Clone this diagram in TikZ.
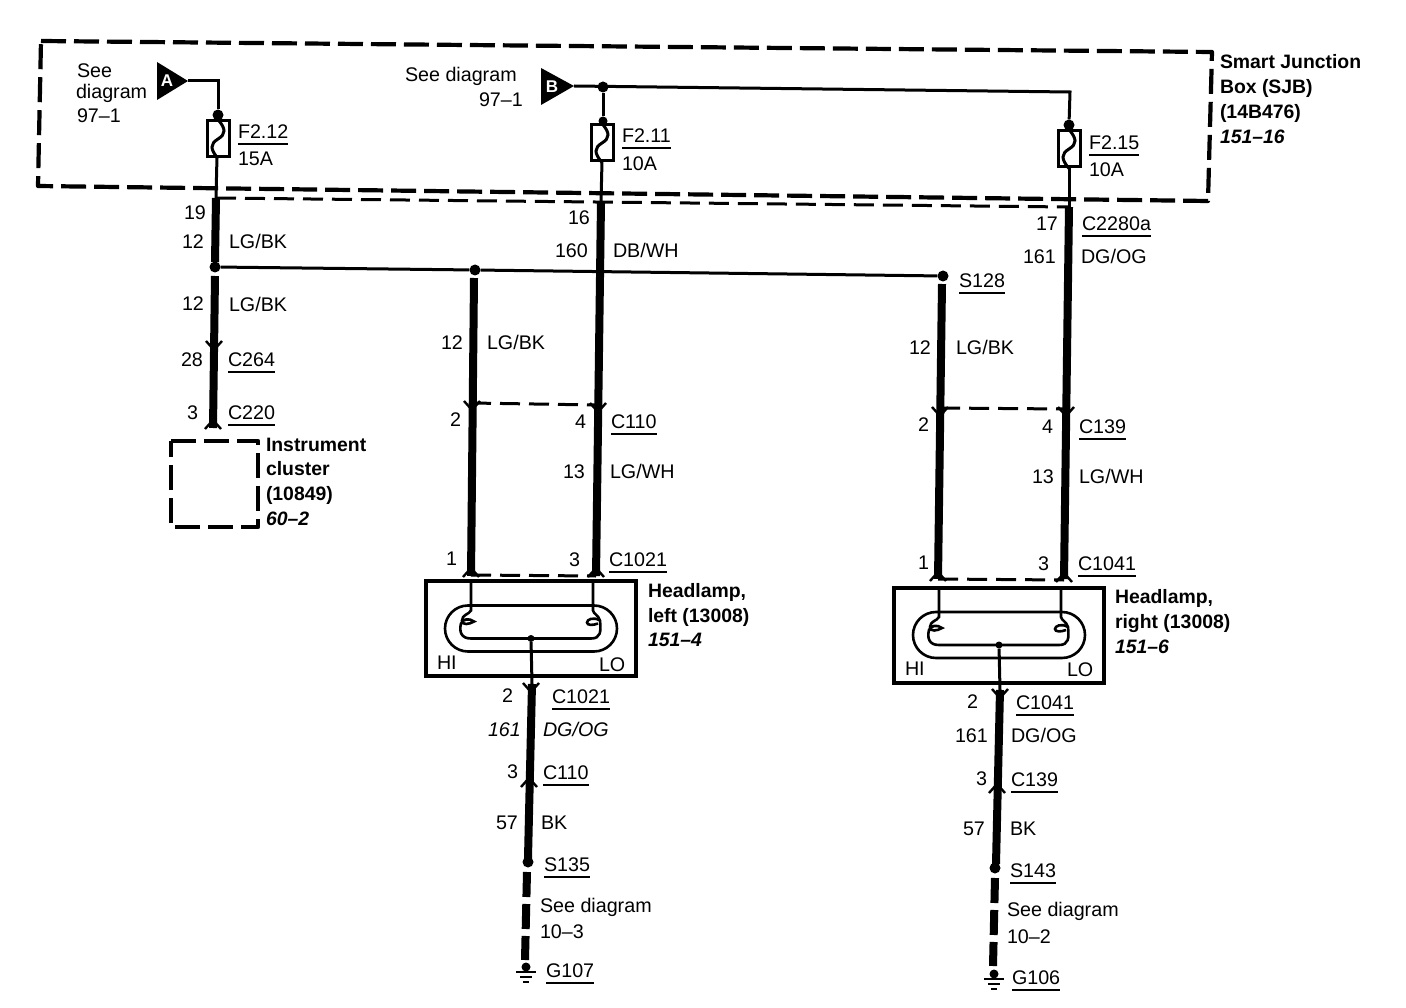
\documentclass[tikz,border=0pt]{standalone}
\usepackage{fontspec}
\setmainfont{Liberation Sans}
\usetikzlibrary{calc}
\tikzset{
  lbl/.style={anchor=west,inner sep=0pt,outer sep=0pt,text height=14.3pt,text depth=0pt,font=\fontsize{19.7}{24}\selectfont},
  bld/.style={lbl,font=\fontsize{19.4}{24}\selectfont\bfseries},
  bit/.style={lbl,font=\fontsize{19.4}{24}\selectfont\bfseries\itshape},
  ita/.style={lbl,font=\fontsize{19.7}{24}\selectfont\itshape},
  ul/.style={append after command={
     ([yshift=-5.5pt]\tikzlastnode.south west) edge[line width=1.8pt] ([yshift=-5.5pt]\tikzlastnode.south east)}},
  thickwire/.style={line width=8pt},
  thinwire/.style={line width=3pt},
  dashwire/.style={line width=3pt,dash pattern=on 20pt off 9pt},
  stub/.style={line width=8pt,dash pattern=on 25pt off 7pt},
  boxdash/.style={line width=4.2pt,dash pattern=on 25pt off 8pt,line join=round},
  dot/.style={circle,fill=black,inner sep=0pt,minimum size=11pt},
  fuse/.style={draw,line width=3pt,fill=white,minimum width=22pt,minimum height=36pt,inner sep=0pt},
  chevron/.style={line width=2.4pt},
  lampbox/.style={draw,line width=4pt,inner sep=0pt,minimum width=210pt,minimum height=95pt},
  letter/.style={inner sep=0pt,text=white,font=\fontsize{17}{20}\selectfont\bfseries}
}
\newcommand{\chevdn}[2]{\draw[chevron] ({#1-8},{#2-9}) -- (#1,#2) -- ({#1+8},{#2-9});}
\newcommand{\chevup}[2]{\draw[chevron] ({#1-8},{#2+9}) -- (#1,#2) -- ({#1+8},{#2+9});}
\newcommand{\fusewave}[1]{\draw[thinwire] (#1.north) .. controls ($(#1.center)+(8,-10)$) and ($(#1.center)+(8,-5)$) .. (#1.center) .. controls ($(#1.center)+(-8,5)$) and ($(#1.center)+(-8,10)$) .. (#1.south);}
\newcommand{\lamp}[3]{%
  \node[lampbox] (#1) at (#2,#3) {};
  \begin{scope}[shift={(#2,#3)}]
    \draw[line width=2.6pt] (-63,-23) -- (63,-23) arc[start angle=-90,end angle=90,radius=23] -- (-63,23) arc[start angle=90,end angle=270,radius=23] -- cycle;
    \coordinate (#1g) at (0,10);
    \draw[line width=2.6pt] (-60,-47) -- (-60,-18) .. controls (-62,-14) and (-69,-14) .. (-69,-8) .. controls (-69,-3) and (-62,-4) .. (-57,-7) .. controls (-62,-11) and (-69,-9) .. (-70,-5) .. controls (-72,3) and (-70,10) .. (-60,10) -- (60,10) .. controls (70,10) and (70,3) .. (69,-8) .. controls (67,-14) and (63,-14) .. (62,-18) -- (62,-47);
    \draw[line width=2.6pt] (69,-8) .. controls (62,-12) and (56,-9) .. (56,-6) .. controls (56,-3) and (62,-3) .. (67,-5);
  \end{scope}}
\newcommand{\gnd}[3]{%
  \node[circle,fill=black,inner sep=0pt,minimum size=9pt] (#1) at (#2,#3) {};
  \draw[line width=2.4pt] ({#2-10},{#3+5}) -- ({#2+10},{#3+5}) ({#2-6},{#3+10}) -- ({#2+6},{#3+10}) ({#2-3},{#3+15}) -- ({#2+3},{#3+15});}
\begin{document}
\begin{tikzpicture}[x=1pt,y=-1pt]
\useasboundingbox (0,0) rectangle (1406,1008);
\fill[white] (0,0) rectangle (1406,1008);

% Smart Junction Box and instrument cluster outlines
\draw[boxdash] (41,41) -- (1212,52) -- (1208,201) -- (38,186) -- cycle;
\draw[boxdash] (171,441) -- (258,441) -- (258,527) -- (171,527) -- cycle;

% named points
\coordinate (ja) at (216,198);
\coordinate (jb) at (601,202);
\coordinate (jc) at (1069,207);
\coordinate (ta) at (188,81);
\coordinate (ka) at (218,81);
\coordinate (tb) at (574,86);
\coordinate (kb) at (1070,92);
\coordinate (a1) at (215,262);
\coordinate (a2) at (215,276);
\coordinate (a3) at (213,428);
\coordinate (b1) at (596,576);
\coordinate (c1) at (1064,579);
\coordinate (l0) at (474,278);
\coordinate (l1) at (471,576);
\coordinate (r0) at (942,284);
\coordinate (r1) at (938,579);
\coordinate (ld1) at (471,403);
\coordinate (ld2) at (597,405);
\coordinate (ld3) at (471,575);
\coordinate (ld4) at (596,576);
\coordinate (rd1) at (940,408);
\coordinate (rd2) at (1065,409);
\coordinate (rd3) at (938,579);
\coordinate (rd4) at (1064,580);

% dots
\node[dot] (dA) at (218,115) {};
\node[dot] (dB) at (603,87) {};
\node[dot,minimum size=9pt] (dB2) at (603,121) {};
\node[dot] (dC) at (1069,125) {};
\node[dot] (s1) at (215,267) {};
\node[dot] (s2) at (475,270) {};
\node[dot] (s3) at (943,276) {};

% sources
\fill (157,62) -- (ta) -- (157,100) -- cycle;
\node[letter] (srcA) at (167,81) {A};
\fill (541,68) -- (tb) -- (541,105) -- cycle;
\node[letter] (srcB) at (552,87) {B};
\draw[thinwire] (ta) -- (ka) -- (dA);
\draw[thinwire] (tb) -- (kb) -- (dC);
\draw[thinwire] (dB) -- (dB2);

% fuses
\draw[thinwire] (dA) -- (ja);
\draw[thinwire] (dB2) -- (jb);
\draw[thinwire] (dC) -- (jc);
\node[fuse] (f1) at (218,139) {};
\node[fuse] (f2) at (602,143) {};
\node[fuse] (f3) at (1069,149) {};
\fusewave{f1}\fusewave{f2}\fusewave{f3}

% splice line
\draw[thinwire] (s1) -- (s2) -- (s3);
\draw[dashwire] (ja) -- (jc);

% heavy wires
\draw[thickwire] (ja) -- (a1);
\draw[thickwire] (a2) -- (a3);
\draw[thickwire] (jb) -- (b1);
\draw[thickwire] (jc) -- (c1);
\draw[thickwire] (l0) -- (l1);
\draw[thickwire] (r0) -- (r1);

% connector dashes
\draw[dashwire] (ld1) -- (ld2);
\draw[dashwire] (ld3) -- (ld4);
\draw[dashwire] (rd1) -- (rd2);
\draw[dashwire] (rd3) -- (rd4);

% chevrons
\chevdn{214}{350}
\chevup{213}{420}
\chevdn{472}{410}
\chevdn{598}{412}
\chevup{471}{568}
\chevup{596}{568}
\chevdn{940}{416}
\chevdn{1066}{416}
\chevup{938}{572}
\chevup{1064}{573}

% lamps
\lamp{hl}{531}{628.5}
\lamp{hr}{999}{635}
\node[dot,minimum size=7pt] (gl) at (hlg) {};
\node[dot,minimum size=7pt] (gr) at (hrg) {};
\coordinate (gl1) at (532,684);
\coordinate (gl2) at (528,858);
\coordinate (gl3) at (527,872);
\coordinate (gl4) at (525,960);
\coordinate (gr1) at (1000,690);
\coordinate (gr2) at (996,864);
\coordinate (gr3) at (995,878);
\coordinate (gr4) at (993,966);
\draw[thinwire] (gl) -- (gl1);
\draw[thinwire] (gr) -- (gr1);
\draw[thickwire] (gl1) -- (gl2);
\draw[thickwire] (gr1) -- (gr2);
\node[dot] (sp1) at (528,862) {};
\node[dot] (sp2) at (995,868) {};
\draw[stub] (gl3) -- (gl4);
\draw[stub] (gr3) -- (gr4);
\gnd{g1}{526}{967}
\gnd{g2}{994}{974}
\chevdn{531}{692}
\chevup{529}{778}
\chevdn{1000}{698}
\chevup{997}{784}

% labels: top
\node[lbl] (t1) at (77,70) {See};
\node[lbl] (t2) at (76,91) {diagram};
\node[lbl] (t3) at (77,115) {97–1};
\node[lbl] (t4) at (405,74) {See diagram};
\node[lbl] (t5) at (479,99) {97–1};
\node[lbl,ul] (t6) at (238,131) {F2.12};
\node[lbl] (t7) at (238,158) {15A};
\node[lbl,ul] (t8) at (622,135) {F2.11};
\node[lbl] (t9) at (622,163) {10A};
\node[lbl,ul] (t10) at (1089,142) {F2.15};
\node[lbl] (t11) at (1089,169) {10A};
\node[bld] (t12) at (1220,61) {Smart Junction};
\node[bld] (t13) at (1220,86) {Box (SJB)};
\node[bld] (t14) at (1220,111) {(14B476)};
\node[bit] (t15) at (1220,136) {151–16};

% left column
\node[lbl] (u1) at (184,212) {19};
\node[lbl] (u2) at (182,241) {12};
\node[lbl] (u3) at (229,241) {LG/BK};
\node[lbl] (u4) at (182,303) {12};
\node[lbl] (u5) at (229,304) {LG/BK};
\node[lbl] (u6) at (181,359) {28};
\node[lbl,ul] (u7) at (228,359) {C264};
\node[lbl] (u8) at (187,412) {3};
\node[lbl,ul] (u9) at (228,412) {C220};
\node[bld] (u10) at (266,444) {Instrument};
\node[bld] (u11) at (266,468) {cluster};
\node[bld] (u12) at (266,493) {(10849)};
\node[bit] (u13) at (266,518) {60–2};

% left headlamp
\node[lbl] (v1) at (568,217) {16};
\node[lbl] (v2) at (555,250) {160};
\node[lbl] (v3) at (613,250) {DB/WH};
\node[lbl] (v4) at (441,342) {12};
\node[lbl] (v5) at (487,342) {LG/BK};
\node[lbl] (v6) at (450,419) {2};
\node[lbl] (v7) at (575,421) {4};
\node[lbl,ul] (v8) at (611,421) {C110};
\node[lbl] (v9) at (563,471) {13};
\node[lbl] (v10) at (610,471) {LG/WH};
\node[lbl] (v11) at (446,558) {1};
\node[lbl] (v12) at (569,559) {3};
\node[lbl,ul] (v13) at (609,559) {C1021};
\node[bld] (v14) at (648,590) {Headlamp,};
\node[bld] (v15) at (648,615) {left (13008)};
\node[bit] (v16) at (648,639) {151–4};
\node[lbl] (v17) at (437,662) {HI};
\node[lbl] (v18) at (599,664) {LO};
\node[lbl] (v19) at (502,695) {2};
\node[lbl,ul] (v20) at (552,696) {C1021};
\node[ita] (v21) at (488,729) {161};
\node[ita] (v22) at (543,729) {DG/OG};
\node[lbl] (v23) at (507,771) {3};
\node[lbl,ul] (v24) at (543,772) {C110};
\node[lbl] (v25) at (496,822) {57};
\node[lbl] (v26) at (541,822) {BK};
\node[lbl,ul] (v27) at (544,864) {S135};
\node[lbl] (v28) at (540,905) {See diagram};
\node[lbl] (v29) at (540,931) {10–3};
\node[lbl,ul] (v30) at (546,970) {G107};

% right headlamp
\node[lbl] (w1) at (1036,223) {17};
\node[lbl,ul] (w2) at (1082,223) {C2280a};
\node[lbl] (w3) at (1023,256) {161};
\node[lbl] (w4) at (1081,256) {DG/OG};
\node[lbl,ul] (w5) at (959,280) {S128};
\node[lbl] (w6) at (909,347) {12};
\node[lbl] (w7) at (956,347) {LG/BK};
\node[lbl] (w8) at (918,424) {2};
\node[lbl] (w9) at (1042,426) {4};
\node[lbl,ul] (w10) at (1079,426) {C139};
\node[lbl] (w11) at (1032,476) {13};
\node[lbl] (w12) at (1079,476) {LG/WH};
\node[lbl] (w13) at (918,562) {1};
\node[lbl] (w14) at (1038,563) {3};
\node[lbl,ul] (w15) at (1078,563) {C1041};
\node[bld] (w16) at (1115,596) {Headlamp,};
\node[bld] (w17) at (1115,621) {right (13008)};
\node[bit] (w18) at (1115,646) {151–6};
\node[lbl] (w19) at (905,668) {HI};
\node[lbl] (w20) at (1067,669) {LO};
\node[lbl] (w21) at (967,701) {2};
\node[lbl,ul] (w22) at (1016,702) {C1041};
\node[lbl] (w23) at (955,735) {161};
\node[lbl] (w24) at (1011,735) {DG/OG};
\node[lbl] (w25) at (976,778) {3};
\node[lbl,ul] (w26) at (1011,779) {C139};
\node[lbl] (w27) at (963,828) {57};
\node[lbl] (w28) at (1010,828) {BK};
\node[lbl,ul] (w29) at (1010,870) {S143};
\node[lbl] (w30) at (1007,909) {See diagram};
\node[lbl] (w31) at (1007,936) {10–2};
\node[lbl,ul] (w32) at (1012,977) {G106};
\end{tikzpicture}
\end{document}
